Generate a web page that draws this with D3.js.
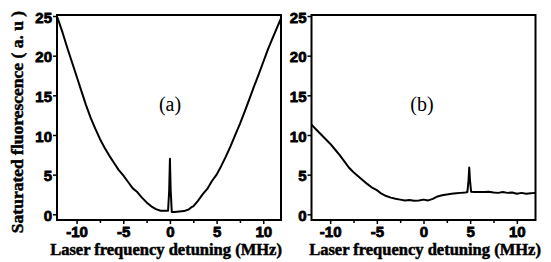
<!DOCTYPE html>
<html>
<head>
<meta charset="utf-8">
<script src="https://cdn.jsdelivr.net/npm/d3@7"></script>
<style>
  body { margin: 0; background: #fff; }
  svg { display: block; }
  .serif { font-family: "Liberation Serif", "Times New Roman", serif; }
  .bold { font-weight: 700; stroke: #000; stroke-width: 0.5px; }
</style>
</head>
<body>
<svg id="chart" width="551" height="262"></svg>
<script>
// Panel (a): detuning (MHz) and fluorescence (a. u)
const detuningA = [-12.05, -11.5, -11.0, -10.5, -10.0, -9.5, -9.0, -8.5, -8.0, -7.5, -7.0, -6.5, -6.0, -5.5, -5.0, -4.5, -4.0, -3.7, -3.5, -3.0, -2.5, -2.0, -1.5, -1.0, -0.5, -0.2, -0.08, 0, 0.08, 0.2, 0.5, 1.0, 1.5, 2.0, 2.3, 2.5, 3.0, 3.5, 4.0, 4.5, 5.0, 5.5, 6.0, 6.5, 7.0, 7.5, 8.0, 8.5, 9.0, 9.5, 10.0, 10.5, 11.0, 11.5, 11.86];
const fluorA = [24.8, 22.9, 21.0, 19.2, 17.4, 15.6, 13.8, 12.2, 10.8, 9.5, 8.4, 7.4, 6.5, 5.6, 4.9, 4.1, 3.3, 3.0, 2.8, 2.1, 1.5, 1.0, 0.65, 0.45, 0.45, 0.45, 3.0, 7.0, 3.0, 0.3, 0.3, 0.35, 0.4, 0.6, 0.9, 1.0, 1.7, 2.5, 3.2, 4.2, 5.0, 6.1, 7.3, 8.6, 10.0, 11.4, 12.9, 14.5, 16.1, 17.6, 19.2, 20.8, 22.2, 23.6, 24.6];

// Panel (b)
const detuningB = [-12.0, -11.5, -11.0, -10.5, -10.0, -9.5, -9.0, -8.5, -8.0, -7.5, -7.0, -6.5, -6.0, -5.5, -5.0, -4.5, -4.0, -3.5, -3.0, -2.5, -2.0, -1.5, -1.0, -0.5, 0.0, 0.5, 1.0, 1.5, 2.0, 2.5, 3.0, 3.5, 4.0, 4.5, 4.7, 4.82, 4.9, 4.98, 5.1, 5.5, 6.0, 6.5, 7.0, 7.5, 8.0, 8.5, 9.0, 9.5, 10.0, 10.5, 11.0, 11.5, 12.0];
const fluorB = [11.3, 10.7, 10.1, 9.5, 8.9, 8.2, 7.5, 6.7, 5.9, 5.3, 4.8, 4.3, 3.8, 3.35, 3.05, 2.6, 2.3, 2.1, 1.95, 1.85, 1.75, 1.8, 1.7, 1.75, 1.85, 1.75, 1.95, 2.25, 2.4, 2.5, 2.6, 2.65, 2.7, 2.75, 2.8, 4.2, 5.9, 4.3, 2.85, 2.8, 2.8, 2.8, 2.85, 2.75, 2.7, 2.8, 2.7, 2.75, 2.6, 2.7, 2.6, 2.65, 2.7];

const xTicks = [-10, -5, 0, 5, 10];
const xMinorTicks = [-12.5, -7.5, -2.5, 2.5, 7.5];
const yTicks = [0, 5, 10, 15, 20, 25];
const panelLabels = ["(a)", "(b)"];
const yTitle = "Saturated fluorescence ( a. u )";
const xTitle = "Laser frequency detuning (MHz)";

const svg = d3.select("#chart");

const y = d3.scaleLinear().domain([-0.72, 25.13]).range([220, 15]);

const panels = [
  { xs: detuningA, ys: fluorA, domain: [-12.1, 11.9], range: [57, 281], label: panelLabels[0] },
  { xs: detuningB, ys: fluorB, domain: [-12, 12], range: [311.5, 535.5], label: panelLabels[1] }
];

// heavy sans-serif tick labels
function styleTickText(sel) {
  sel.selectAll("text")
    .style("font-family", "'Liberation Sans', Arial, sans-serif")
    .style("font-weight", "700")
    .style("font-size", "15px")
    .style("stroke", "#000")
    .style("stroke-width", "0.8px");
}

panels.forEach((p, i) => {
  const x = d3.scaleLinear().domain(p.domain).range(p.range);
  const g = svg.append("g");

  // clip so the trace stays inside the frame
  g.append("clipPath").attr("id", "clip" + i)
    .append("rect")
    .attr("x", p.range[0]).attr("y", 15)
    .attr("width", p.range[1] - p.range[0]).attr("height", 205);

  const line = d3.line()
    .x((d, j) => x(p.xs[j]))
    .y((d, j) => y(p.ys[j]));

  g.append("path")
    .datum(p.ys)
    .attr("clip-path", `url(#clip${i})`)
    .attr("fill", "none")
    .attr("stroke", "#000")
    .attr("stroke-width", 2)
    .attr("stroke-linejoin", "round")
    .attr("d", line);

  // minor x ticks
  g.append("g")
    .attr("transform", "translate(0,220)")
    .call(d3.axisBottom(x).tickValues(xMinorTicks.filter(v => v >= p.domain[0] && v <= p.domain[1]))
      .tickSize(3).tickFormat(""))
    .call(a => a.select(".domain").remove())
    .selectAll("line").attr("stroke-width", 1.5);

  // x axis
  const xa = g.append("g")
    .attr("transform", "translate(0,220)")
    .call(d3.axisBottom(x).tickValues(xTicks).tickSize(4).tickPadding(2).tickFormat(d => d < 0 ? "-" + Math.abs(d) : d));
  xa.select(".domain").remove();
  xa.selectAll("line").attr("stroke-width", 1.5);
  styleTickText(xa);

  // y axis
  const ya = g.append("g")
    .attr("transform", `translate(${p.range[0]},0)`)
    .call(d3.axisLeft(y).tickValues(yTicks).tickSize(4).tickPadding(1));
  ya.select(".domain").remove();
  ya.selectAll("line").attr("stroke-width", 1.5);
  styleTickText(ya);
  ya.selectAll("text").attr("dy", "0.42em");

  // frame
  g.append("rect")
    .attr("x", p.range[0]).attr("y", 15)
    .attr("width", p.range[1] - p.range[0]).attr("height", 205)
    .attr("fill", "none")
    .attr("stroke", "#000")
    .attr("stroke-width", 2);

  // panel label
  g.append("text")
    .attr("class", "serif")
    .attr("x", i === 0 ? 170 : 422)
    .attr("y", 111)
    .attr("text-anchor", "middle")
    .style("font-size", "20px")
    .text(p.label);

  // x title
  g.append("text")
    .attr("class", "serif bold")
    .attr("x", i === 0 ? 166 : 425)
    .attr("y", 255)
    .attr("text-anchor", "middle")
    .style("font-size", "16.5px")
    .text(xTitle);
});

// y title
svg.append("text")
  .attr("class", "serif bold")
  .attr("transform", "translate(23,122) rotate(-90)")
  .attr("text-anchor", "middle")
  .style("font-size", "17.5px")
  .text(yTitle);
</script>
</body>
</html>
